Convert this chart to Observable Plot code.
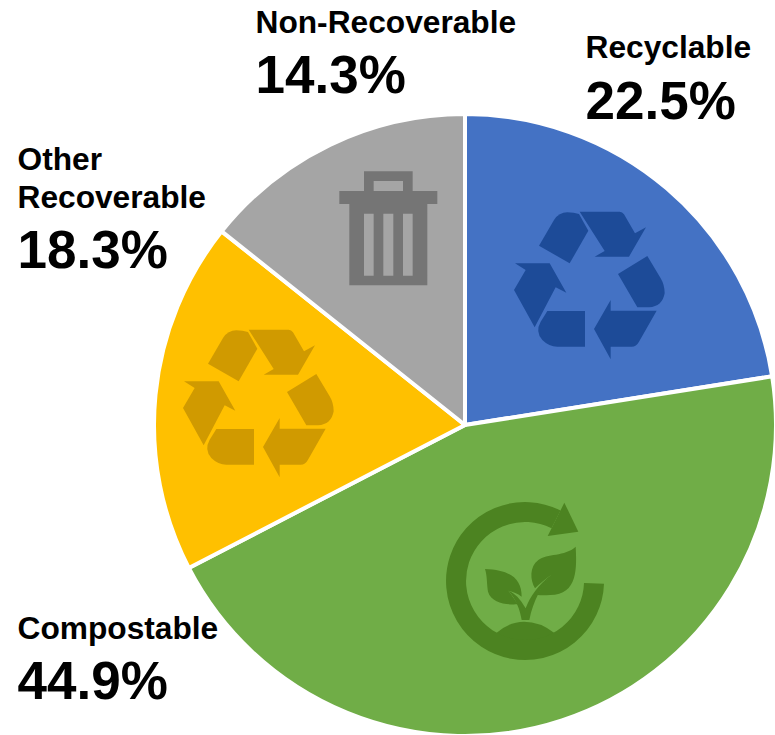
<!DOCTYPE html>
<html>
<head>
<meta charset="utf-8">
<script src="https://cdn.jsdelivr.net/npm/d3@7"></script>
<script src="https://cdn.jsdelivr.net/npm/@observablehq/plot@0.6"></script>
<style>
  html, body { margin: 0; padding: 0; background: #fff; }
  svg { display: block; }
</style>
</head>
<body>
<script>
// Waste stream shares, clockwise from twelve o'clock
const categories = ["Recyclable", "Compostable", "Other Recoverable", "Non-Recoverable"];
const shares = [22.5, 44.9, 18.3, 14.3];
const sliceColors = ["#4472C4", "#70AD47", "#FFC000", "#A5A5A5"];
const labelLines = ["Recyclable", "Compostable", "Other\nRecoverable", "Non-Recoverable"];

const width = 775, height = 735;
const radius = 311;

// Text placement for each category: left edge, caption baseline, percentage baseline
const labelPlacement = {
  "Recyclable": [585, 57, 118],
  "Compostable": [17, 638, 698],
  "Other Recoverable": [17, 207, 267],
  "Non-Recoverable": [255, 32, 92]
};

// Recycling symbol outlines, drawn on a 3-unit-per-pixel grid
const recyclePaths = [
  "M242 35H362Q370 35 375 43L408 100L441 82L390 170H287L317 153Z",
  "M120 137L165 60Q180 37 205 37Q225 37 240 42L268 92L212 190Z",
  "M357 222L445 168L485 235Q497 255 497 280Q490 320 450 322H415Z",
  "M473 332L420 425Q412 440 398 440H335V478L285 387L335 300V332Z",
  "M258 333V440H175Q150 440 130 420Q108 395 125 365L145 333Z",
  "M48 190H152L202 278L170 262L107 382L45 270L80 210Z"
];

// Sprouting seedling inside a circular arrow, same grid
const sproutPaths = [
  "M200 428Q240 395 282 395Q330 395 372 428L372 470L285 485L200 470Z",
  "M403 38L445 125L353 138Z",
  "M165 237C240 240 275 265 275 320C262 310 250 305 235 302C245 315 255 330 263 343C230 345 185 340 174 305C170 280 172 260 165 237Z",
  "M235 302C255 310 270 325 287 355C300 320 325 285 363 255C335 290 310 330 298 390H275C270 360 260 330 235 302Z",
  "M437 170C440 230 445 315 360 315C345 316 335 316 322 315C330 300 340 280 363 255C345 268 330 280 315 295C300 270 298 230 325 210C350 190 405 200 437 170Z"
];

// Waste bin, same grid
const binPaths = [
  "M102 34H248V93H322V132H292V376H58V132H28V93H102ZM131 63V93H219V63ZM102 161V347H131V161ZM160 161V347H190V161ZM219 161V347H248V161Z"
];

const svgNS = "http://www.w3.org/2000/svg";

function slicesMark(index, {x, y, color}) {
  const g = document.createElementNS(svgNS, "g");
  const cx = x(0), cy = y(0);
  const r = x(radius) - x(0);
  const pie = d3.pie().sort(null).value(d => d.share)(table);
  const arc = d3.arc().innerRadius(0).outerRadius(r);
  for (const p of pie) {
    const path = document.createElementNS(svgNS, "path");
    path.setAttribute("d", arc(p));
    path.setAttribute("transform", `translate(${cx},${cy})`);
    path.setAttribute("fill", color(p.data.category));
    path.setAttribute("stroke", "#fff");
    path.setAttribute("stroke-width", 4);
    path.setAttribute("stroke-linejoin", "round");
    g.appendChild(path);
  }
  return g;
}

// Places a small glyph on a slice; the offset is measured from the pie centre
function glyphMark(paths, fill, dx, dy, extra) {
  return (index, {x, y}) => {
    const g = document.createElementNS(svgNS, "g");
    g.setAttribute("transform", `translate(${x(0) + dx},${y(0) + dy}) scale(${1 / 3})`);
    g.setAttribute("fill", fill);
    for (const d of paths) {
      const path = document.createElementNS(svgNS, "path");
      path.setAttribute("d", d);
      path.setAttribute("fill-rule", "evenodd");
      g.appendChild(path);
    }
    if (extra) extra(g);
    return g;
  };
}

function sproutRing(g) {
  const ring = document.createElementNS(svgNS, "path");
  ring.setAttribute("d", "M492 280A207 207 0 1 1 378 88");
  ring.setAttribute("fill", "none");
  ring.setAttribute("stroke", "#4C8321");
  ring.setAttribute("stroke-width", 60);
  g.appendChild(ring);
}

const table = categories.map((category, i) => ({category, share: shares[i]}));

const labelMarks = categories.flatMap((category, i) => {
  const [left, captionBase, valueBase] = labelPlacement[category];
  const common = {
    frameAnchor: "top-left",
    textAnchor: "start",
    lineAnchor: "bottom",
    fontWeight: "bold",
    fill: "#000",
    dx: left
  };
  return [
    Plot.text([labelLines[i]], {...common, dy: captionBase, fontSize: 31.7, lineHeight: 1.18}),
    Plot.text([shares[i].toFixed(1) + "%"], {...common, dy: valueBase, fontSize: 53})
  ];
});

const chart = Plot.plot({
  width,
  height,
  margin: 0,
  style: {fontFamily: "'Liberation Sans', Arial, sans-serif", background: "#fff"},
  x: {domain: [-465, 310], range: [0, width], axis: null},
  y: {domain: [-310, 425], range: [height, 0], axis: null},
  color: {domain: categories, range: sliceColors},
  marks: [
    slicesMark,
    glyphMark(recyclePaths, "#1D4B98", 34, -225),
    glyphMark(sproutPaths, "#4C8321", -35, 65, sproutRing),
    glyphMark(recyclePaths, "#D09A00", -297, -107),
    glyphMark(binPaths, "#757575", -135, -265),
    ...labelMarks
  ]
});

document.body.appendChild(chart);
</script>
</body>
</html>
